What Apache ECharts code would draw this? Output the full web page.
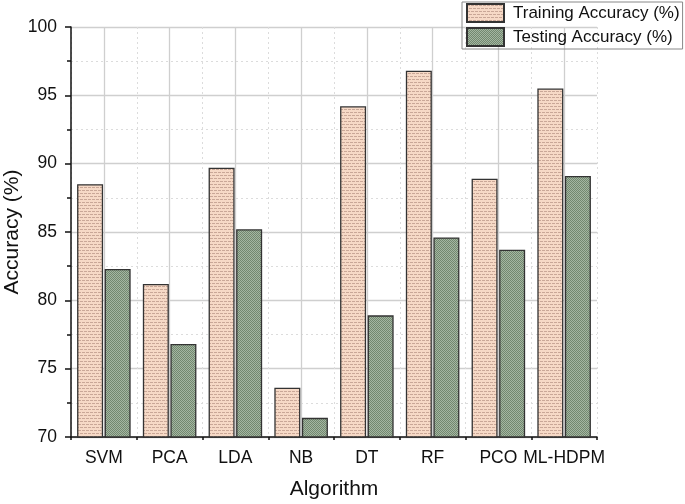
<!DOCTYPE html>
<html><head><meta charset="utf-8">
<script src="https://cdn.jsdelivr.net/npm/echarts@6/dist/echarts.min.js"></script>
<style>html,body{margin:0;padding:0;background:#fff}#c{width:685px;height:504px}</style>
</head><body><div id="c"></div>
<script>
const categories = ['SVM','PCA','LDA','NB','DT','RF','PCO','ML-HDPM'];
const trainAcc = [88.5, 81.2, 89.7, 73.6, 94.2, 96.8, 88.9, 95.5];
const testAcc  = [82.3, 76.8, 85.2, 71.4, 78.9, 84.6, 83.7, 89.1];
const yTicks = {min: 70, max: 100, interval: 5};
const yTitle = 'Accuracy (%)';

function trainPattern(){
  const c = document.createElement('canvas'); c.width = 8; c.height = 6;
  const g = c.getContext('2d');
  g.fillStyle = '#f6d9c6'; g.fillRect(0,0,8,6);
  g.fillStyle = '#c9a797';
  g.fillRect(0,1,3,1); g.fillRect(4,1,3,1);
  g.fillRect(2,4,3,1); g.fillRect(6,4,2,1); g.fillRect(0,4,1,1);
  return c;
}
function testPattern(){
  const c = document.createElement('canvas'); c.width = 2; c.height = 2;
  const g = c.getContext('2d');
  g.fillStyle = '#a4b6a2'; g.fillRect(0,0,2,2);
  g.fillStyle = '#72886f'; g.fillRect(0,0,1,1); g.fillRect(1,1,1,1);
  return c;
}

const font = 'Liberation Sans, Arial, sans-serif';
const chart = echarts.init(document.getElementById('c'), null, {renderer: 'canvas'});
chart.setOption({
  animation: false,
  grid: {left: 71, right: 88, top: 27, bottom: 67, containLabel: false, outerBoundsMode: 'none'},
  graphic: [{
    type: 'text', x: 12, y: 232, rotation: Math.PI / 2,
    style: {text: yTitle, font: '21px ' + font, fill: '#111', align: 'center', verticalAlign: 'middle'}
  }],
  legend: {
    orient: 'vertical', left: 462, top: 2,
    itemWidth: 37, itemHeight: 18, itemGap: 4,
    padding: [1, 3, 2, 4],
    icon: 'rect',
    borderColor: '#888', borderWidth: 1, borderRadius: 0,
    textStyle: {fontFamily: font, fontSize: 17, color: '#111', padding: [0, 0, 0, 4]},
    data: ['Training Accuracy (%)', 'Testing Accuracy (%)']
  },
  xAxis: [{
    type: 'category', data: categories,
    name: 'Algorithm', nameLocation: 'middle', nameGap: 42, nameMoveOverlap: false,
    nameTextStyle: {fontFamily: font, fontSize: 21, color: '#111'},
    axisLine: {lineStyle: {color: '#111', width: 1.5}},
    axisTick: {alignWithLabel: true, length: 6, lineStyle: {color: '#111', width: 1.5}},
    axisLabel: {fontFamily: font, fontSize: 17.5, color: '#111', margin: 12, interval: 0},
    splitLine: {show: false}
  }, {
    type: 'value', min: 0, max: 8, interval: 1, position: 'bottom',
    axisLine: {show: false},
    axisTick: {show: true, length: 3, lineStyle: {color: '#111', width: 1.5}},
    axisLabel: {show: false},
    splitLine: {show: true, lineStyle: {color: '#dcdcdc', type: [2, 3], width: 1}},
    minorTick: {show: false, splitNumber: 2},
    minorSplitLine: {show: true, lineStyle: {color: '#cfcfcf', width: 1.3}}
  }],
  yAxis: {
    type: 'value', min: yTicks.min, max: yTicks.max, interval: yTicks.interval,
    axisLine: {show: true, lineStyle: {color: '#111', width: 1.5}},
    axisTick: {show: true, length: 6, lineStyle: {color: '#111', width: 1.5}},
    minorTick: {show: true, splitNumber: 2, length: 4, lineStyle: {color: '#111', width: 1.5}},
    axisLabel: {fontFamily: font, fontSize: 17.5, color: '#111', margin: 14},
    splitLine: {show: true, lineStyle: {color: '#cfcfcf', width: 1.3}},
    minorSplitLine: {show: true, lineStyle: {color: '#dcdcdc', type: [2, 3], width: 1}}
  },
  series: [{
    name: 'Training Accuracy (%)', type: 'bar', data: trainAcc, xAxisIndex: 0,
    barWidth: 26, barGap: '6%',
    itemStyle: {color: {image: trainPattern(), repeat: 'repeat'}, borderColor: '#333', borderWidth: 1.3}
  }, {
    name: 'Testing Accuracy (%)', type: 'bar', data: testAcc, xAxisIndex: 0,
    barWidth: 26,
    itemStyle: {color: {image: testPattern(), repeat: 'repeat'}, borderColor: '#333', borderWidth: 1.3}
  }]
});
</script></body></html>
